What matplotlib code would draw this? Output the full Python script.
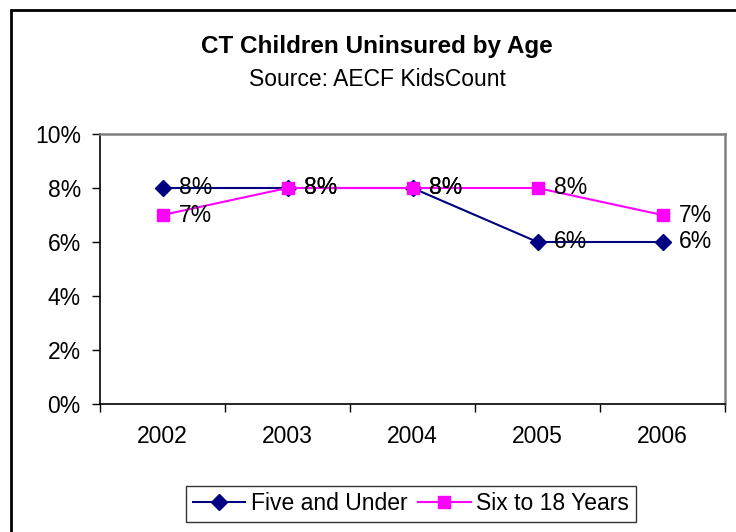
import numpy as np
import matplotlib.pyplot as plt
from matplotlib.patches import Rectangle
from matplotlib.ticker import FixedLocator, PercentFormatter

years = ['2002', '2003', '2004', '2005', '2006']
five_under = [8, 8, 8, 6, 6]
six_to_18 = [7, 8, 8, 8, 7]

plt.rcParams['font.family'] = ['Liberation Sans', 'DejaVu Sans']
FS = 16.5

fig = plt.figure(figsize=(7.36, 5.32), dpi=100)
ax = fig.add_axes([100/736, 1-404/532, 625/736, 270/532])

x = np.arange(len(years))
ax.plot(x, five_under, color='#000080', marker='D', markersize=8, lw=1.5,
        label='Five and Under', zorder=3)
ax.plot(x, six_to_18, color='#ff00ff', marker='s', markersize=8, lw=1.5,
        label='Six to 18 Years', zorder=4)

# value labels to the right of each point
for xi, v in zip(x, five_under):
    ax.annotate(f'{v}%', (xi, v), xytext=(12, 0), textcoords='offset points',
                va='center', ha='left', fontsize=FS, zorder=5)
for xi, v in zip(x, six_to_18):
    ax.annotate(f'{v}%', (xi, v), xytext=(12, 0), textcoords='offset points',
                va='center', ha='left', fontsize=FS, zorder=5)

ax.set_xlim(-0.5, 4.5)
ax.set_ylim(0, 10)
ax.set_yticks(np.arange(0, 11, 2))
ax.yaxis.set_major_formatter(PercentFormatter(decimals=0))
ax.set_xticks(x)
ax.set_xticklabels(years)
ax.xaxis.set_minor_locator(FixedLocator(np.arange(-0.5, 5, 1)))
ax.tick_params(axis='x', which='major', length=0, pad=15, labelsize=FS)
ax.tick_params(axis='x', which='minor', length=5.8, width=1, direction='out')
ax.tick_params(axis='y', length=5.8, width=1, direction='out', labelsize=FS, pad=8)

for s in ['left', 'bottom']:
    ax.spines[s].set_color('black')
    ax.spines[s].set_linewidth(1.2)
for s in ['top', 'right']:
    ax.spines[s].set_color('#808080')
    ax.spines[s].set_linewidth(1.8)

fig.text(377/736, 1-46/532, 'CT Children Uninsured by Age', ha='center',
         va='center', fontsize=17.5, fontweight='bold')
fig.text(377/736, 1-80/532, 'Source: AECF KidsCount', ha='center',
         va='center', fontsize=FS)

leg = fig.legend(loc='center', bbox_to_anchor=(411/736, 1-504/532), ncol=2,
                 fontsize=FS, frameon=True, fancybox=False, edgecolor='black',
                 handlelength=2.3, handletextpad=0.25, columnspacing=0.45,
                 borderpad=0.3, borderaxespad=0)
leg.get_frame().set_linewidth(1.0)

fig.add_artist(Rectangle((11/736, -0.1), 1.0, 1 - 10/532 + 0.1,
                         transform=fig.transFigure, fill=False,
                         edgecolor='black', linewidth=2))

fig.savefig('out.png', dpi=100)
